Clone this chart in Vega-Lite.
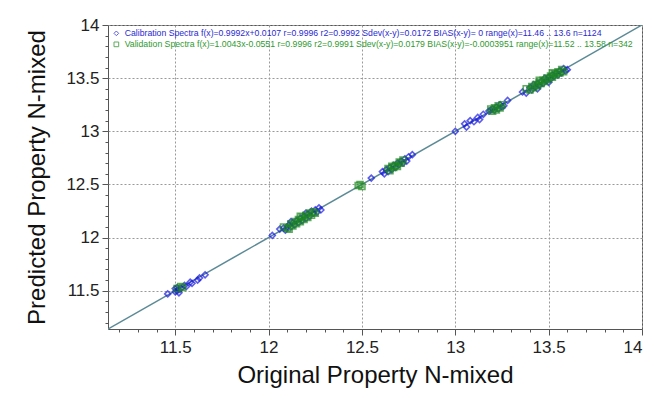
{
  "$schema": "https://vega.github.io/schema/vega-lite/v6.json",
  "autosize": "none",
  "width": 534,
  "height": 304,
  "padding": {"left": 108, "top": 25, "right": 17, "bottom": 72},
  "background": "white",
  "config": {
    "view": {"stroke": "#555", "strokeWidth": 1},
    "font": "Liberation Sans"
  },
  "datasets": {
    "diag": [{"x": 11.14, "y": 11.14}, {"x": 14, "y": 14}],
    "pts": [
      {"s": "cal", "x": 11.46, "y": 11.47}, {"s": "cal", "x": 11.50, "y": 11.49}, {"s": "cal", "x": 11.50, "y": 11.52}, {"s": "cal", "x": 11.51, "y": 11.50}, {"s": "cal", "x": 11.51, "y": 11.53}, {"s": "cal", "x": 11.52, "y": 11.51}, {"s": "cal", "x": 11.52, "y": 11.48}, {"s": "cal", "x": 11.53, "y": 11.52}, {"s": "cal", "x": 11.55, "y": 11.55}, {"s": "cal", "x": 11.56, "y": 11.54}, {"s": "cal", "x": 11.58, "y": 11.58}, {"s": "cal", "x": 11.59, "y": 11.57}, {"s": "cal", "x": 11.62, "y": 11.60}, {"s": "cal", "x": 11.63, "y": 11.62}, {"s": "cal", "x": 11.66, "y": 11.65},
      {"s": "cal", "x": 12.02, "y": 12.02},
      {"s": "cal", "x": 12.06, "y": 12.08}, {"s": "cal", "x": 12.08, "y": 12.09}, {"s": "cal", "x": 12.09, "y": 12.07}, {"s": "cal", "x": 12.10, "y": 12.10}, {"s": "cal", "x": 12.11, "y": 12.12}, {"s": "cal", "x": 12.12, "y": 12.10}, {"s": "cal", "x": 12.13, "y": 12.14}, {"s": "cal", "x": 12.14, "y": 12.12}, {"s": "cal", "x": 12.15, "y": 12.16}, {"s": "cal", "x": 12.16, "y": 12.14}, {"s": "cal", "x": 12.17, "y": 12.18}, {"s": "cal", "x": 12.18, "y": 12.16}, {"s": "cal", "x": 12.19, "y": 12.20}, {"s": "cal", "x": 12.20, "y": 12.18}, {"s": "cal", "x": 12.21, "y": 12.22}, {"s": "cal", "x": 12.22, "y": 12.20}, {"s": "cal", "x": 12.23, "y": 12.25}, {"s": "cal", "x": 12.24, "y": 12.23}, {"s": "cal", "x": 12.25, "y": 12.26}, {"s": "cal", "x": 12.26, "y": 12.24}, {"s": "cal", "x": 12.27, "y": 12.28}, {"s": "cal", "x": 12.28, "y": 12.26}, {"s": "cal", "x": 12.12, "y": 12.15}, {"s": "cal", "x": 12.20, "y": 12.23},
      {"s": "cal", "x": 12.55, "y": 12.56},
      {"s": "cal", "x": 12.61, "y": 12.62}, {"s": "cal", "x": 12.62, "y": 12.60}, {"s": "cal", "x": 12.63, "y": 12.64}, {"s": "cal", "x": 12.64, "y": 12.62}, {"s": "cal", "x": 12.65, "y": 12.66}, {"s": "cal", "x": 12.66, "y": 12.64}, {"s": "cal", "x": 12.67, "y": 12.68}, {"s": "cal", "x": 12.68, "y": 12.66}, {"s": "cal", "x": 12.69, "y": 12.70}, {"s": "cal", "x": 12.70, "y": 12.69}, {"s": "cal", "x": 12.71, "y": 12.72}, {"s": "cal", "x": 12.72, "y": 12.70}, {"s": "cal", "x": 12.73, "y": 12.74}, {"s": "cal", "x": 12.74, "y": 12.72}, {"s": "cal", "x": 12.75, "y": 12.76}, {"s": "cal", "x": 12.77, "y": 12.78},
      {"s": "cal", "x": 13.00, "y": 13.00}, {"s": "cal", "x": 13.05, "y": 13.07}, {"s": "cal", "x": 13.06, "y": 13.04}, {"s": "cal", "x": 13.08, "y": 13.10}, {"s": "cal", "x": 13.10, "y": 13.09}, {"s": "cal", "x": 13.12, "y": 13.13}, {"s": "cal", "x": 13.13, "y": 13.11}, {"s": "cal", "x": 13.15, "y": 13.16},
      {"s": "cal", "x": 13.18, "y": 13.19}, {"s": "cal", "x": 13.19, "y": 13.20}, {"s": "cal", "x": 13.20, "y": 13.21}, {"s": "cal", "x": 13.21, "y": 13.20}, {"s": "cal", "x": 13.22, "y": 13.23}, {"s": "cal", "x": 13.23, "y": 13.21}, {"s": "cal", "x": 13.24, "y": 13.25}, {"s": "cal", "x": 13.25, "y": 13.23}, {"s": "cal", "x": 13.26, "y": 13.24}, {"s": "cal", "x": 13.28, "y": 13.29},
      {"s": "cal", "x": 13.36, "y": 13.37}, {"s": "cal", "x": 13.38, "y": 13.36}, {"s": "cal", "x": 13.40, "y": 13.41}, {"s": "cal", "x": 13.41, "y": 13.39}, {"s": "cal", "x": 13.42, "y": 13.44}, {"s": "cal", "x": 13.43, "y": 13.42}, {"s": "cal", "x": 13.44, "y": 13.45}, {"s": "cal", "x": 13.45, "y": 13.43}, {"s": "cal", "x": 13.46, "y": 13.47}, {"s": "cal", "x": 13.47, "y": 13.45}, {"s": "cal", "x": 13.48, "y": 13.50}, {"s": "cal", "x": 13.49, "y": 13.48}, {"s": "cal", "x": 13.50, "y": 13.51}, {"s": "cal", "x": 13.51, "y": 13.49}, {"s": "cal", "x": 13.52, "y": 13.53}, {"s": "cal", "x": 13.53, "y": 13.52}, {"s": "cal", "x": 13.54, "y": 13.55}, {"s": "cal", "x": 13.55, "y": 13.53}, {"s": "cal", "x": 13.56, "y": 13.57}, {"s": "cal", "x": 13.57, "y": 13.55}, {"s": "cal", "x": 13.58, "y": 13.59}, {"s": "cal", "x": 13.59, "y": 13.57}, {"s": "cal", "x": 13.60, "y": 13.58}, {"s": "cal", "x": 13.44, "y": 13.40}, {"s": "cal", "x": 13.50, "y": 13.46},
      {"s": "val", "x": 11.51, "y": 11.52}, {"s": "val", "x": 11.53, "y": 11.54}, {"s": "val", "x": 11.54, "y": 11.53},
      {"s": "val", "x": 12.08, "y": 12.10}, {"s": "val", "x": 12.10, "y": 12.09}, {"s": "val", "x": 12.12, "y": 12.13}, {"s": "val", "x": 12.13, "y": 12.11}, {"s": "val", "x": 12.14, "y": 12.15}, {"s": "val", "x": 12.15, "y": 12.13}, {"s": "val", "x": 12.16, "y": 12.17}, {"s": "val", "x": 12.17, "y": 12.15}, {"s": "val", "x": 12.18, "y": 12.19}, {"s": "val", "x": 12.19, "y": 12.17}, {"s": "val", "x": 12.20, "y": 12.21}, {"s": "val", "x": 12.21, "y": 12.19}, {"s": "val", "x": 12.22, "y": 12.23}, {"s": "val", "x": 12.23, "y": 12.21}, {"s": "val", "x": 12.24, "y": 12.24}, {"s": "val", "x": 12.25, "y": 12.23}, {"s": "val", "x": 12.17, "y": 12.20}, {"s": "val", "x": 12.11, "y": 12.08},
      {"s": "val", "x": 12.48, "y": 12.49}, {"s": "val", "x": 12.49, "y": 12.50}, {"s": "val", "x": 12.50, "y": 12.48},
      {"s": "val", "x": 12.64, "y": 12.65}, {"s": "val", "x": 12.65, "y": 12.63}, {"s": "val", "x": 12.66, "y": 12.67}, {"s": "val", "x": 12.67, "y": 12.66}, {"s": "val", "x": 12.68, "y": 12.68}, {"s": "val", "x": 12.69, "y": 12.67}, {"s": "val", "x": 12.70, "y": 12.71}, {"s": "val", "x": 12.71, "y": 12.70}, {"s": "val", "x": 12.72, "y": 12.73},
      {"s": "val", "x": 13.19, "y": 13.21}, {"s": "val", "x": 13.20, "y": 13.19}, {"s": "val", "x": 13.21, "y": 13.22}, {"s": "val", "x": 13.22, "y": 13.20}, {"s": "val", "x": 13.23, "y": 13.24}, {"s": "val", "x": 13.24, "y": 13.22}, {"s": "val", "x": 13.25, "y": 13.25},
      {"s": "val", "x": 13.38, "y": 13.40}, {"s": "val", "x": 13.40, "y": 13.39}, {"s": "val", "x": 13.41, "y": 13.42}, {"s": "val", "x": 13.42, "y": 13.41}, {"s": "val", "x": 13.43, "y": 13.44}, {"s": "val", "x": 13.44, "y": 13.43}, {"s": "val", "x": 13.45, "y": 13.46}, {"s": "val", "x": 13.46, "y": 13.45}, {"s": "val", "x": 13.47, "y": 13.48}, {"s": "val", "x": 13.48, "y": 13.47}, {"s": "val", "x": 13.49, "y": 13.50}, {"s": "val", "x": 13.50, "y": 13.49}, {"s": "val", "x": 13.51, "y": 13.52}, {"s": "val", "x": 13.52, "y": 13.51}, {"s": "val", "x": 13.53, "y": 13.54}, {"s": "val", "x": 13.54, "y": 13.53}, {"s": "val", "x": 13.55, "y": 13.56}, {"s": "val", "x": 13.56, "y": 13.55}, {"s": "val", "x": 13.57, "y": 13.58}, {"s": "val", "x": 13.58, "y": 13.56}, {"s": "val", "x": 13.45, "y": 13.48}, {"s": "val", "x": 13.52, "y": 13.55}
    ]
  },
  "layer": [
    {
      "data": {"name": "diag"},
      "mark": {"type": "line", "color": "#5b8a96", "strokeWidth": 1.5, "clip": true},
      "encoding": {
        "x": {"field": "x", "type": "quantitative", "scale": {"domain": [11.14, 14], "nice": false, "zero": false},
          "axis": {"orient": "bottom", "values": [11.2,11.3,11.4,11.6,11.7,11.8,11.9,12.1,12.2,12.3,12.4,12.6,12.7,12.8,12.9,13.1,13.2,13.3,13.4,13.6,13.7,13.8,13.9], "labels": false, "grid": false, "domain": false, "tickSize": 3, "tickColor": "#555", "title": null}},
        "y": {"field": "y", "type": "quantitative", "scale": {"domain": [11.14, 14], "nice": false, "zero": false},
          "axis": {"orient": "left", "values": [11.2,11.3,11.4,11.6,11.7,11.8,11.9,12.1,12.2,12.3,12.4,12.6,12.7,12.8,12.9,13.1,13.2,13.3,13.4,13.6,13.7,13.8,13.9], "labels": false, "grid": false, "domain": false, "tickSize": 3, "tickColor": "#555", "title": null}}
      }
    },
    {
      "data": {"name": "pts"},
      "transform": [{"calculate": "datum.s == 'cal' ? 'Calibration Spectra f(x)=0.9992x+0.0107  r=0.9996  r2=0.9992  Sdev(x-y)=0.0172  BIAS(x-y)=  0  range(x)=11.46 .. 13.6  n=1124' : 'Validation Spectra f(x)=1.0043x-0.0551  r=0.9996  r2=0.9991  Sdev(x-y)=0.0179  BIAS(x-y)=-0.0003951  range(x)=11.52 .. 13.58  n=342'", "as": "series"}],
      "mark": {"type": "point", "filled": false, "strokeWidth": 1.6, "size": 36, "clip": true},
      "encoding": {
        "x": {"field": "x", "type": "quantitative",
          "axis": {"orient": "bottom", "values": [11.5, 12, 12.5, 13, 13.5, 14], "labelExpr": "'' + datum.value", "title": "Original Property N-mixed", "grid": true, "gridColor": "#999", "gridDash": [2, 2], "gridWidth": 1, "domain": false, "tickSize": 6, "tickColor": "#555", "labelFontSize": 17, "labelColor": "#222", "labelPadding": 4, "titleFontSize": 24, "titleFontWeight": "normal", "titleColor": "#111", "titlePadding": 8}},
        "y": {"field": "y", "type": "quantitative",
          "axis": {"orient": "left", "values": [11.5, 12, 12.5, 13, 13.5, 14], "labelExpr": "'' + datum.value", "title": "Predicted Property N-mixed", "grid": true, "gridColor": "#999", "gridDash": [2, 2], "gridWidth": 1, "domain": false, "tickSize": 6, "tickColor": "#555", "labelFontSize": 17, "labelColor": "#222", "labelPadding": 3, "titleFontSize": 24, "titleFontWeight": "normal", "titleColor": "#111", "titlePadding": 16}},
        "color": {"field": "series", "type": "nominal", "scale": {"range": ["#1a1ae0", "#1e8a1e"]},
          "legend": {"orient": "top-left", "title": null, "offset": 4, "padding": 0, "rowPadding": 1, "labelFontSize": 8.7, "labelLimit": 0, "symbolSize": 22, "symbolStrokeWidth": 1, "labelOffset": 4,
            "labelColor": {"expr": "indexof(datum.label, 'Calibration') >= 0 ? '#2a2ad0' : '#2e9a2e'"}}},
        "shape": {"field": "series", "type": "nominal", "scale": {"range": ["diamond", "square"]}}
      }
    }
  ],
  "resolve": {"axis": {"x": "independent", "y": "independent"}}
}
